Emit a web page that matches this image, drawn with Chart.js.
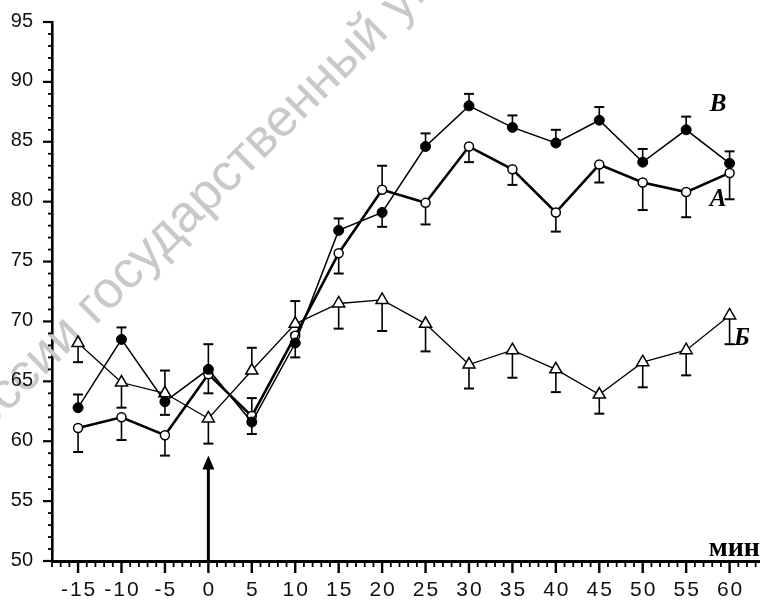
<!DOCTYPE html>
<html>
<head>
<meta charset="utf-8">
<script src="https://cdn.jsdelivr.net/npm/chart.js@4.4.1/dist/chart.umd.min.js"></script>
<style>
html,body{margin:0;padding:0;background:#fff;}
#wrap{width:760px;height:602px;position:relative;}
</style>
</head>
<body>
<div id="wrap"><canvas id="c" width="760" height="602"></canvas></div>
<script>
// ---- data ----
const minutes = [-15,-10,-5,0,5,10,15,20,25,30,35,40,45,50,55,60];
const xTickLabels = [-15,-10,-5,0,5,10,15,20,25,30,35,40,45,50,55,60];
const yTickLabels = [50,55,60,65,70,75,80,85,90,95];
// А — open circles
const seriesA = [61.1,62.0,60.5,65.6,62.1,68.8,75.7,81.0,79.9,84.6,82.7,79.1,83.1,81.6,80.8,82.4];
const errA    = [-2.0,-1.9,-1.7,-1.6,1.5,-1.8,-1.7,2.0,-1.8,-1.3,-1.3,-1.6,-1.5,-2.3,-2.1,-2.2];
// Б — open triangles
const seriesBe = [68.2,64.9,64.0,61.9,65.9,69.8,71.5,71.8,69.8,66.4,67.6,66.0,63.9,66.6,67.6,70.5];
const errBe    = [-1.6,-2.1,1.9,-2.1,1.9,1.9,-2.1,-2.6,-2.3,-2.0,-2.3,-1.9,-1.6,-2.1,-2.1,-2.4];
// В — filled circles
const seriesVe = [62.8,68.5,63.3,66.0,61.6,68.2,77.6,79.1,84.6,88.0,86.2,84.9,86.8,83.3,86.0,83.2];
const errVe    = [1.1,1.0,-1.1,2.1,-1.0,0.8,1.0,-1.2,1.1,1.0,1.0,1.1,1.1,1.1,1.1,1.0];
const seriesNames = ['А','Б','В'];
const xUnit = 'мин';
const arrowAt = 0;
const arrowTop = 58.8;
const watermarkPre = "России ";
const watermarkMain = "государственный";
const watermarkPost = " университет";

const toPts = arr => arr.map((v,i)=>({x:minutes[i], y:v}));
const errs = [errA, errBe, errVe];

const watermarkPlugin = {
  id:'wm',
  beforeDatasetsDraw(chart){
    const ctx = chart.ctx;
    ctx.save();
    ctx.translate(95,326);
    ctx.rotate(-44.7*Math.PI/180);
    let size = 48;
    ctx.font = size + 'px "Liberation Sans", Arial, sans-serif';
    const wMain = ctx.measureText(watermarkMain).width;
    size = size * 415 / wMain;
    ctx.font = size.toFixed(1) + 'px "Liberation Sans", Arial, sans-serif';
    ctx.fillStyle = '#c9c9c9';
    ctx.textBaseline = 'alphabetic';
    const wPre = ctx.measureText(watermarkPre).width;
    ctx.fillText(watermarkPre + watermarkMain + watermarkPost, -wPre, 0);
    ctx.restore();
  }
};

const errPlugin = {
  id:'errbars',
  beforeDatasetsDraw(chart){
    const ctx = chart.ctx;
    const xs = chart.scales.x, ys = chart.scales.y;
    ctx.save();
    ctx.strokeStyle = '#000';
    chart.data.datasets.forEach((ds,di)=>{
      const e = errs[di];
      ds.data.forEach((p,i)=>{
        const x = xs.getPixelForValue(p.x);
        const y0 = ys.getPixelForValue(p.y);
        const y1 = ys.getPixelForValue(p.y + e[i]);
        ctx.lineWidth = 1.6;
        ctx.beginPath(); ctx.moveTo(x,y0); ctx.lineTo(x,y1); ctx.stroke();
        ctx.lineWidth = 2;
        ctx.beginPath(); ctx.moveTo(x-5,y1); ctx.lineTo(x+5,y1); ctx.stroke();
      });
    });
    ctx.restore();
  }
};

const axisPlugin = {
  id:'axisTicks',
  afterDraw(chart){
    const ctx = chart.ctx;
    const xs = chart.scales.x, ys = chart.scales.y;
    const ca = chart.chartArea;
    ctx.save();
    ctx.strokeStyle = '#000';
    // x ticks
    for(let v=Math.ceil(xs.min); v<=xs.max; v++){
      const x = xs.getPixelForValue(v);
      const major = (v % 5 === 0);
      ctx.lineWidth = major ? 2.4 : 1.8;
      ctx.beginPath(); ctx.moveTo(x, ca.bottom); ctx.lineTo(x, ca.bottom + (major ? 12 : 6)); ctx.stroke();
    }
    // y ticks
    for(let v=ys.min; v<=ys.max; v++){
      const y = ys.getPixelForValue(v);
      const major = (v % 5 === 0);
      ctx.lineWidth = major ? 2.2 : 1.8;
      ctx.beginPath(); ctx.moveTo(ca.left - (major ? 9 : 4), y); ctx.lineTo(ca.left + 1, y); ctx.stroke();
    }
    // tick labels
    ctx.fillStyle = '#111';
    ctx.font = '21px "Liberation Sans", Arial, sans-serif';
    ctx.textBaseline = 'middle';
    ctx.textAlign = 'center';
    ctx.letterSpacing = '2px';
    xTickLabels.forEach(v=>{
      ctx.fillText(String(v), xs.getPixelForValue(v) + 1, ca.bottom + 29);
    });
    ctx.letterSpacing = '0px';
    ctx.font = '20px "Liberation Sans", Arial, sans-serif';
    ctx.textAlign = 'right';
    yTickLabels.forEach(v=>{
      ctx.fillText(String(v), 33, ys.getPixelForValue(v) - 1);
    });
    // arrow at time 0
    const ax = xs.getPixelForValue(arrowAt);
    const ay0 = ys.getPixelForValue(ys.min);
    const ay1 = ys.getPixelForValue(arrowTop);
    ctx.lineWidth = 3;
    ctx.beginPath(); ctx.moveTo(ax, ay0); ctx.lineTo(ax, ay1 + 10); ctx.stroke();
    ctx.fillStyle = '#000';
    ctx.beginPath(); ctx.moveTo(ax, ay1); ctx.lineTo(ax-6, ay1+14); ctx.lineTo(ax+6, ay1+14); ctx.closePath(); ctx.fill();
    // series labels
    ctx.textAlign = 'center';
    ctx.textBaseline = 'middle';
    ctx.font = 'italic bold 25px "Liberation Serif", "Times New Roman", serif';
    ctx.fillText(seriesNames[2], 718, 105);
    ctx.fillText(seriesNames[0], 718, 200);
    ctx.fillText(seriesNames[1], 742, 339);
    ctx.font = 'bold 28px "Liberation Serif", "Times New Roman", serif';
    ctx.textAlign = 'right';
    ctx.textBaseline = 'alphabetic';
    ctx.fillText(xUnit, 760, 556);
    ctx.restore();
  }
};

new Chart(document.getElementById('c'), {
  type:'line',
  data:{
    datasets:[
      {label:seriesNames[0], data:toPts(seriesA), borderColor:'#000', borderWidth:2.6, pointStyle:'circle', pointRadius:4.5,
       pointBackgroundColor:'#fff', pointBorderColor:'#000', pointBorderWidth:1.5, tension:0, order:2},
      {label:seriesNames[1], data:toPts(seriesBe), borderColor:'#000', borderWidth:1.3, pointStyle:'triangle', pointRadius:7,
       pointBackgroundColor:'#fff', pointBorderColor:'#000', pointBorderWidth:1.5, tension:0, order:3},
      {label:seriesNames[2], data:toPts(seriesVe), borderColor:'#000', borderWidth:1.5, pointStyle:'circle', pointRadius:5,
       pointBackgroundColor:'#000', pointBorderColor:'#000', pointBorderWidth:1, tension:0, order:1}
    ]
  },
  options:{
    responsive:false,
    animation:false,
    layout:{autoPadding:false, padding:{top:22,right:0,left:0,bottom:0}},
    plugins:{legend:{display:false}, tooltip:{enabled:false}},
    scales:{
      x:{type:'linear', min:-18, max:63.5, position:'bottom',
         grid:{display:false},
         border:{display:true, color:'#000', width:3},
         afterFit: s => { s.height = 41; s.paddingLeft = 0; s.paddingRight = 0; },
         ticks:{display:false}
      },
      y:{type:'linear', min:50, max:95,
         grid:{display:false},
         border:{display:true, color:'#000', width:2.6},
         afterFit: s => { s.width = 52; s.paddingTop = 0; s.paddingBottom = 0; },
         ticks:{display:false}
      }
    }
  },
  plugins:[watermarkPlugin, errPlugin, axisPlugin]
});
</script>
</body>
</html>
